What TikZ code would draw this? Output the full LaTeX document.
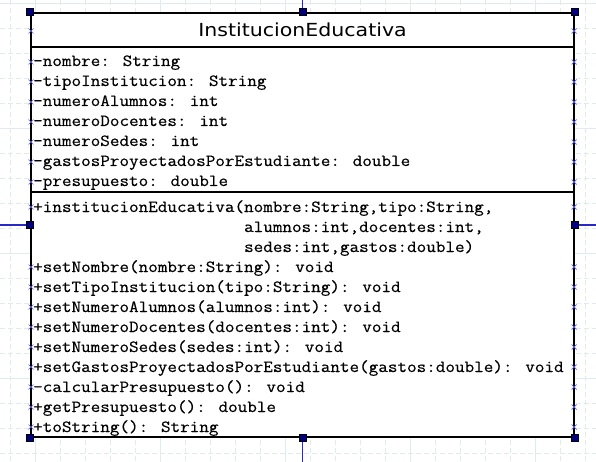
\documentclass[tikz,border=0pt]{standalone}
\usepackage{fontspec}
\newfontfamily\titlefont{DejaVu Sans}
\newfontfamily\memff{Latin Modern Mono}[FakeBold=0.4]
\definecolor{gridc}{HTML}{E0EBEB}
\definecolor{handlec}{HTML}{000080}
\definecolor{connc}{HTML}{2828C8}
\definecolor{xc}{HTML}{6060E8}
\newcommand\memfont{\fontsize{17}{20}\selectfont\memff}
\newcommand\mtext[1]{\scalebox{1.095}[1]{#1}}
\tikzset{
  minorgrid/.style={draw=gridc, line width=0.9pt, dash pattern=on 5pt off 3pt},
  majorgrid/.style={draw=gridc, line width=0.9pt},
  classbox/.style={draw=black, line width=2pt, fill=white, minimum width=543pt, minimum height=424pt, inner sep=0pt},
  sepline/.style={draw=black, line width=2pt},
  handle/.style={draw=black, fill=handlec, minimum size=7pt, inner sep=0pt, line width=0.6pt},
  conn/.style={draw=connc, line width=1.2pt},
  xmark/.style={draw=xc, line width=0.7pt},
  member/.style={anchor=base west, inner sep=0pt, font=\memfont},
  classtitle/.style={anchor=base, inner sep=0pt, font=\titlefont\fontsize{18}{20}\selectfont},
}
\begin{document}
\begin{tikzpicture}[x=1pt,y=-1pt]
\useasboundingbox (0,0) rectangle (596,462);
% grid
\foreach \gx in {10,35,...,585} \draw[minorgrid] (\gx,0) -- (\gx,462);
\foreach \gy in {3,28,...,453} \draw[minorgrid] (0,\gy) -- (596,\gy);
\foreach \gx in {35,160,285,410,535} \draw[majorgrid] (\gx,0) -- (\gx,462);
\foreach \gy in {3,128,253,378} \draw[majorgrid] (0,\gy) -- (596,\gy);
% class box
\node[classbox] (box) at (302.5,225) {};
% connectors ends
\coordinate (ct) at (302.5,0);
\coordinate (cb) at (302.5,462);
\coordinate (cl) at (0,225);
\coordinate (cr) at (596,225);
\draw[conn] (ct) -- (box.north);
\draw[conn] (cb) -- (box.south);
\draw[conn] (cl) -- (box.west);
\draw[conn] (cr) -- (box.east);
% separators
\path (box.north west) ++(0,35) coordinate (s1l);
\path (box.north east) ++(0,35) coordinate (s1r);
\path (box.north west) ++(0,180) coordinate (s2l);
\path (box.north east) ++(0,180) coordinate (s2r);
\draw[sepline] (s1l) -- (s1r);
\draw[sepline] (s2l) -- (s2r);
% title
\node[classtitle] (title) at (302.5,37) {\scalebox{1.14}[1]{InstitucionEducativa}};
% attributes
\node[member] (a1) at (33,66) {\mtext{-nombre: String}};
\node[member] (a2) at (33,86) {\mtext{-tipoInstitucion: String}};
\node[member] (a3) at (33,106) {\mtext{-numeroAlumnos: int}};
\node[member] (a4) at (33,126) {\mtext{-numeroDocentes: int}};
\node[member] (a5) at (33,146) {\mtext{-numeroSedes: int}};
\node[member] (a6) at (33,166) {\mtext{-gastosProyectadosPorEstudiante: double}};
\node[member] (a7) at (33,186) {\mtext{-presupuesto: double}};
% methods
\node[member] (m1) at (33,212) {\mtext{+institucionEducativa(nombre:String,tipo:String,}};
\node[member] (m1b) at (33,232) {\mtext{\hphantom{+institucionEducativa(}alumnos:int,docentes:int,}};
\node[member] (m1c) at (33,252) {\mtext{\hphantom{+institucionEducativa(}sedes:int,gastos:double)}};
\node[member] (m2) at (33,272) {\mtext{+setNombre(nombre:String): void}};
\node[member] (m3) at (33,292) {\mtext{+setTipoInstitucion(tipo:String): void}};
\node[member] (m4) at (33,312) {\mtext{+setNumeroAlumnos(alumnos:int): void}};
\node[member] (m5) at (33,332) {\mtext{+setNumeroDocentes(docentes:int): void}};
\node[member] (m6) at (33,352) {\mtext{+setNumeroSedes(sedes:int): void}};
\node[member] (m7) at (33,372) {\mtext{+setGastosProyectadosPorEstudiante(gastos:double): void}};
\node[member] (m8) at (33,392) {\mtext{-calcularPresupuesto(): void}};
\node[member] (m9) at (33,412) {\mtext{+getPresupuesto(): double}};
\node[member] (m10) at (33,432) {\mtext{+toString(): String}};
% x marks
\foreach \yy in {31,62,82,102,122,142,162,182,207,267,287,307,327,347,367,387,407,427} {
  \draw[xmark] (28.5,\yy-2.5) -- (33.5,\yy+2.5) (28.5,\yy+2.5) -- (33.5,\yy-2.5);
  \draw[xmark] (571.5,\yy-2.5) -- (576.5,\yy+2.5) (571.5,\yy+2.5) -- (576.5,\yy-2.5);
}
% handles
\node[handle] (hnw) at (box.north west) {};
\node[handle] (hn) at (box.north) {};
\node[handle] (hne) at (box.north east) {};
\node[handle] (he) at (box.east) {};
\node[handle] (hse) at (box.south east) {};
\node[handle] (hs) at (box.south) {};
\node[handle] (hsw) at (box.south west) {};
\node[handle] (hw) at (box.west) {};
\end{tikzpicture}
\end{document}
